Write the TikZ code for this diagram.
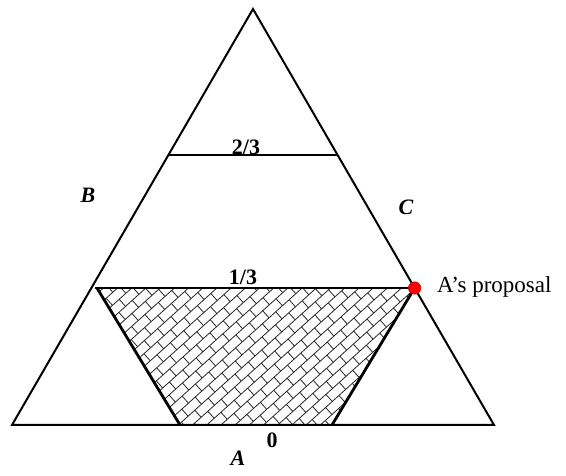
\documentclass[tikz,border=0pt]{standalone}
\usepackage{fontspec}
\setmainfont{Liberation Serif}
\begin{document}
\begin{tikzpicture}[x=1pt,y=1pt,
  edge/.style={line width=2pt,line join=miter},
  thick edge/.style={line width=2.8pt},
  brick/.style={line width=0.8pt,black!85},
  lbl/.style={font=\fontsize{22}{24}\selectfont\bfseries,inner sep=0pt},
  ilbl/.style={font=\fontsize{22}{24}\selectfont\bfseries\itshape,inner sep=0pt},
  dot/.style={circle,fill=red,draw=red!70!black,line width=0.4pt,minimum size=12.5pt,inner sep=0pt}]
\useasboundingbox (0,0) rectangle (566,476);
% triangle corners
\coordinate (top) at (253,467);
\coordinate (bl) at (12,51);
\coordinate (br) at (494,51);
% level lines
\coordinate (t2l) at (168.4,321);
\coordinate (t2r) at (337.6,321);
\coordinate (t1l) at (95,188);
\coordinate (t1r) at (414.6,188);
% trapezoid
\coordinate (ztl) at (97,188);
\coordinate (zbl) at (180,51);
\coordinate (zbr) at (332,51);
% hatch
\begin{scope}
\clip (ztl) -- (t1r) -- (zbr) -- (zbl) -- cycle;
\begin{scope}[shift={(255,120)},rotate=42]
\foreach \i in {-22,...,22} {
  \draw[brick] (-300,\i*9.5) -- (300,\i*9.5);
  \foreach \j in {-20,...,20} {
    \pgfmathsetmacro\xx{\j*18+9*abs(mod(\i,2))}
    \draw[brick] (\xx,\i*9.5) -- (\xx,\i*9.5+9.5);
  }
}
\end{scope}
\end{scope}
\draw[edge] (bl) -- (top) -- (br) -- cycle;
\draw[thick edge] (t2l) -- (t2r);
\draw[thick edge] (t1l) -- (t1r);
\draw[thick edge] (ztl) -- (zbl);
\draw[thick edge] (t1r) -- (zbr);
\node[dot] (prop) at (t1r) {};
\node[anchor=west,inner sep=0pt,font=\fontsize{23}{25}\selectfont] (proptext) at (437,189) {A’s proposal};
\node[lbl] (l23) at (246,329) {2/3};
\node[lbl] (l13) at (243,199) {1/3};
\node[ilbl] (lB) at (88,281) {B};
\node[ilbl] (lC) at (406,269) {C};
\node[ilbl] (lA) at (238,18) {A};
\node[lbl] (l0) at (272,36) {0};
\end{tikzpicture}
\end{document}
